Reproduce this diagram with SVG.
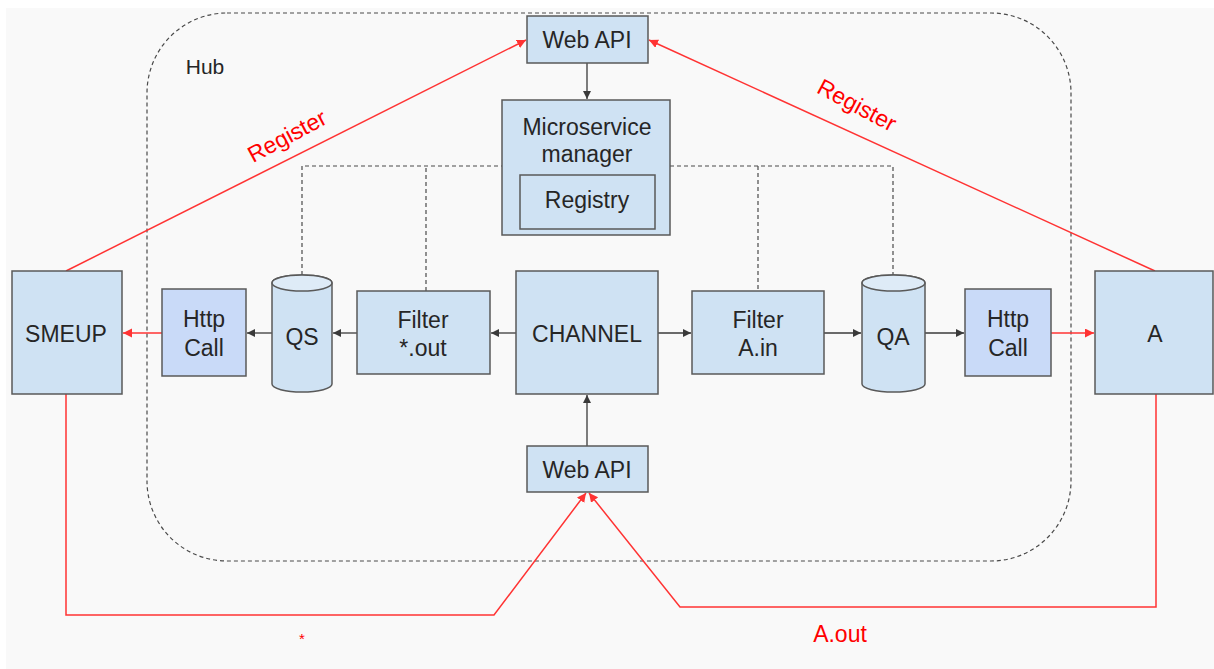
<svg xmlns="http://www.w3.org/2000/svg" width="1214" height="669" viewBox="0 0 1214 669">
<style>
.box{fill:#cfe2f3;stroke:#595959;stroke-width:1.5}
.http{fill:#c9daf8;stroke:#595959;stroke-width:1.5}
.cyl{fill:#cfe2f3;stroke:#595959;stroke-width:1.5}
.cyltop{fill:#deebf7;stroke:#595959;stroke-width:1.5}
.t{font-family:"Liberation Sans",Arial,sans-serif;font-size:23px;fill:#262626;text-anchor:middle}
.red{font-family:"Liberation Sans",Arial,sans-serif;font-size:23px;fill:#ff0000;text-anchor:middle}
.dash{fill:none;stroke:#4a4a4a;stroke-width:1.2;stroke-dasharray:4,3}
.dk{fill:none;stroke:#3a3a3a;stroke-width:1.3;marker-end:url(#ad)}
.rd{fill:none;stroke:#ff3333;stroke-width:1.5;marker-end:url(#ar)}
</style>
<defs>
<marker id="ad" markerUnits="userSpaceOnUse" markerWidth="10" markerHeight="10" refX="8" refY="4" orient="auto"><path d="M0,0 L8,4 L0,8 Z" fill="#3a3a3a"/></marker>
<marker id="ar" markerUnits="userSpaceOnUse" markerWidth="12" markerHeight="12" refX="9" refY="4.5" orient="auto"><path d="M0,0 L9,4.5 L0,9 Z" fill="#ff3333"/></marker>
</defs>
<rect x="0" y="0" width="1214" height="669" fill="#ffffff"/>
<rect x="6" y="8" width="1208" height="661" fill="#f9f9f9"/>
<g id="hub">
<rect x="147" y="13" width="924" height="548" rx="80" ry="80" class="dash"/>
<text x="205" y="74" class="t" style="font-size:21px">Hub</text>
</g>
<g id="connectors">
<path class="dash" d="M302,275 V166 H502 M426,291 V166 M670,166 H893 V275 M758,166 V291"/>
<path class="dk" d="M587,63 V99"/>
<path class="dk" d="M587,446 V395"/>
<path class="dk" d="M516,333 H491"/>
<path class="dk" d="M357,333 H333"/>
<path class="dk" d="M272,333 H247"/>
<path class="dk" d="M658,333 H691"/>
<path class="dk" d="M824,333 H861"/>
<path class="dk" d="M925,333 H964"/>
<path class="rd" d="M162,333 H123"/>
<path class="rd" d="M1051,333 H1094"/>
<path class="rd" d="M66,271 L526,40"/>
<path class="rd" d="M1155,271 L649,40"/>
<path class="rd" d="M66,394 V615 H494 L586,493"/>
<path class="rd" d="M1156,394 V607 H680 L589,493"/>
<text class="red" transform="translate(287,136) rotate(-28)" x="0" y="8">Register</text>
<text class="red" transform="translate(857,105) rotate(28)" x="0" y="8">Register</text>
<text class="red" x="302" y="644" style="font-size:15px">*</text>
<text class="red" x="840" y="642">A.out</text>
</g>
<g id="webapi-top">
<rect x="527" y="16" width="121" height="47" class="box"/>
<text x="587" y="48" class="t">Web API</text>
</g>
<g id="msmanager">
<rect x="502" y="100" width="168" height="135" class="box"/>
<text x="587" y="135" class="t">Microservice</text>
<text x="587" y="162" class="t">manager</text>
</g>
<g id="registry">
<rect x="520" y="175" width="135" height="54" class="box"/>
<text x="587" y="208" class="t">Registry</text>
</g>
<g id="smeup">
<rect x="12" y="271" width="110" height="123" class="box"/>
<text x="66" y="342" class="t">SMEUP</text>
</g>
<g id="http-left">
<rect x="162" y="289" width="84" height="87" class="http"/>
<text x="204" y="327" class="t">Http</text>
<text x="204" y="356" class="t">Call</text>
</g>
<g id="qs">
<path class="cyl" d="M272,283 A30,8 0 0 1 332,283 V384 A30,8 0 0 1 272,384 Z"/>
<ellipse cx="302" cy="283" rx="30" ry="8" class="cyltop"/>
<text x="302" y="345" class="t">QS</text>
</g>
<g id="filter-out">
<rect x="357" y="291" width="133" height="83" class="box"/>
<text x="423" y="328" class="t">Filter</text>
<text x="423" y="356" class="t">*.out</text>
</g>
<g id="channel">
<rect x="516" y="271" width="142" height="123" class="box"/>
<text x="587" y="342" class="t">CHANNEL</text>
</g>
<g id="filter-in">
<rect x="692" y="291" width="132" height="83" class="box"/>
<text x="758" y="328" class="t">Filter</text>
<text x="758" y="356" class="t">A.in</text>
</g>
<g id="qa">
<path class="cyl" d="M862,283 A31.5,8 0 0 1 925,283 V384 A31.5,8 0 0 1 862,384 Z"/>
<ellipse cx="893.5" cy="283" rx="31.5" ry="8" class="cyltop"/>
<text x="893" y="345" class="t">QA</text>
</g>
<g id="http-right">
<rect x="965" y="289" width="86" height="87" class="http"/>
<text x="1008" y="327" class="t">Http</text>
<text x="1008" y="356" class="t">Call</text>
</g>
<g id="a">
<rect x="1095" y="271" width="118" height="123" class="box"/>
<text x="1155" y="342" class="t">A</text>
</g>
<g id="webapi-bottom">
<rect x="527" y="446" width="121" height="46" class="box"/>
<text x="587" y="478" class="t">Web API</text>
</g>
</svg>
